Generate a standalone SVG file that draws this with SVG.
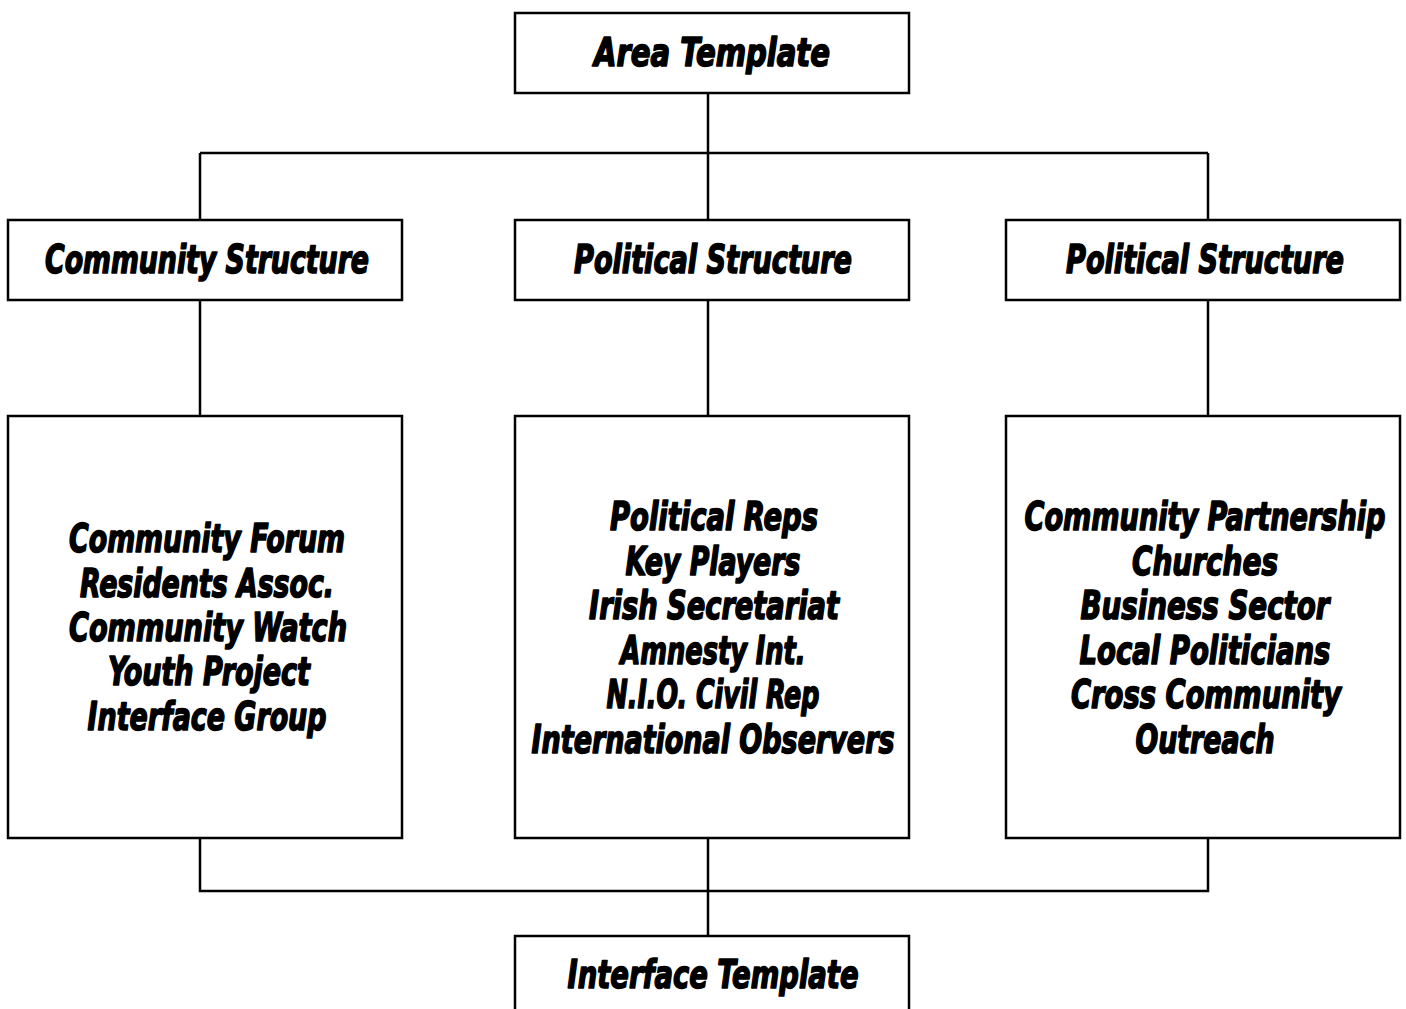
<svg xmlns="http://www.w3.org/2000/svg" width="1406" height="1009" viewBox="0 0 1406 1009">
<style>
.box{fill:#fff;stroke:#000;stroke-width:2.5}
.ln{fill:none;stroke:#000;stroke-width:2.5}
text{font-family:"DejaVu Sans Condensed","DejaVu Sans",sans-serif;font-stretch:condensed;font-weight:bold;font-style:oblique;font-size:39px;fill:#000;stroke:#000;stroke-width:1.6;stroke-linejoin:round;text-anchor:middle}
</style>
<rect width="1406" height="1009" fill="#fff"/>
<g id="connectors">
<path class="ln" d="M708 93V153M200 153H1208M200 153V220M708 153V220M1208 153V220"/>
<path class="ln" d="M200 300V416M708 300V416M1208 300V416"/>
<path class="ln" d="M200 838V891H1208V838M708 838V936"/>
</g>
<g id="area-template">
<rect class="box" x="515" y="13" width="394" height="80"/>
<text x="712" y="66" textLength="236" lengthAdjust="spacingAndGlyphs">Area Template</text>
</g>
<g id="community-structure">
<rect class="box" x="8" y="220" width="394" height="80"/>
<text x="207" y="273" textLength="324" lengthAdjust="spacingAndGlyphs">Community Structure</text>
</g>
<g id="political-structure-1">
<rect class="box" x="515" y="220" width="394" height="80"/>
<text x="713" y="273" textLength="278" lengthAdjust="spacingAndGlyphs">Political Structure</text>
</g>
<g id="political-structure-2">
<rect class="box" x="1006" y="220" width="394" height="80"/>
<text x="1205" y="273" textLength="278" lengthAdjust="spacingAndGlyphs">Political Structure</text>
</g>
<g id="community-list">
<rect class="box" x="8" y="416" width="394" height="422"/>
<text x="207" y="552" textLength="276" lengthAdjust="spacingAndGlyphs">Community Forum</text>
<text x="207" y="597" textLength="254" lengthAdjust="spacingAndGlyphs">Residents Assoc.</text>
<text x="208" y="641" textLength="278" lengthAdjust="spacingAndGlyphs">Community Watch</text>
<text x="209" y="685" textLength="202" lengthAdjust="spacingAndGlyphs">Youth Project</text>
<text x="207" y="730" textLength="239" lengthAdjust="spacingAndGlyphs">Interface Group</text>
</g>
<g id="political-list">
<rect class="box" x="515" y="416" width="394" height="422"/>
<text x="714" y="530" textLength="208" lengthAdjust="spacingAndGlyphs">Political Reps</text>
<text x="713" y="575" textLength="175" lengthAdjust="spacingAndGlyphs">Key Players</text>
<text x="714" y="619" textLength="250" lengthAdjust="spacingAndGlyphs">Irish Secretariat</text>
<text x="713" y="664" textLength="185" lengthAdjust="spacingAndGlyphs">Amnesty Int.</text>
<text x="713" y="708" textLength="213" lengthAdjust="spacingAndGlyphs">N.I.O. Civil Rep</text>
<text x="713" y="753" textLength="363" lengthAdjust="spacingAndGlyphs">International Observers</text>
</g>
<g id="partnership-list">
<rect class="box" x="1006" y="416" width="394" height="422"/>
<text x="1205" y="530" textLength="361" lengthAdjust="spacingAndGlyphs">Community Partnership</text>
<text x="1205" y="575" textLength="146" lengthAdjust="spacingAndGlyphs">Churches</text>
<text x="1205" y="619" textLength="249" lengthAdjust="spacingAndGlyphs">Business Sector</text>
<text x="1205" y="664" textLength="251" lengthAdjust="spacingAndGlyphs">Local Politicians</text>
<text x="1206" y="708" textLength="270" lengthAdjust="spacingAndGlyphs">Cross Community</text>
<text x="1205" y="753" textLength="139" lengthAdjust="spacingAndGlyphs">Outreach</text>
</g>
<g id="interface-template">
<rect class="box" x="515" y="936" width="394" height="90"/>
<text x="713" y="988" textLength="291" lengthAdjust="spacingAndGlyphs">Interface Template</text>
</g>
</svg>
